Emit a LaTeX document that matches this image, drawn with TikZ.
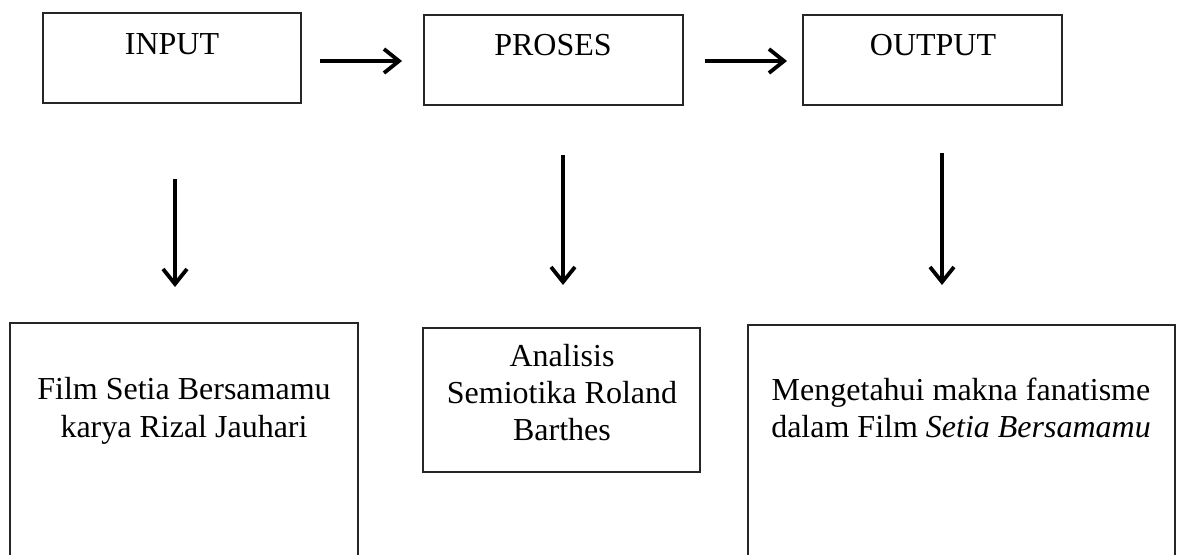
\documentclass[tikz,border=0pt]{standalone}
\usepackage{fontspec}
\setmainfont{Liberation Serif}
\usetikzlibrary{arrows.meta}
\begin{document}
\begin{tikzpicture}[x=1pt,y=-1pt,
  box/.style={draw=black!85,line width=1.1pt,rectangle},
  txt/.style={anchor=base,inner sep=0pt,font=\fontsize{32}{37}\selectfont},
  flow/.style={line width=3.8pt,-{Straight Barb[length=15pt,width=24pt,line width=3.8pt]}}]
\useasboundingbox (0,0) rectangle (1177,554);
% top boxes
\draw[box] (43,13) rectangle (301,103);
\draw[box] (424,15) rectangle (683,105);
\draw[box] (803,15) rectangle (1062,105);
\node[txt] (tin) at (172,54) {INPUT};
\node[txt] (tpr) at (553,55) {PROSES};
\node[txt] (tout) at (933,55) {OUTPUT};
% bottom boxes
\draw[box] (10,323) rectangle (358,570);
\draw[box] (423,328) rectangle (700,472);
\draw[box] (748,325) rectangle (1175,570);
\node[txt] (b1a) at (184,399) {Film Setia Bersamamu};
\node[txt] (b1b) at (184,437) {karya Rizal Jauhari};
\node[txt] (b2a) at (562,366) {Analisis};
\node[txt] (b2b) at (562,403) {Semiotika Roland};
\node[txt] (b2c) at (562,440) {Barthes};
\node[txt] (b3a) at (961,400) {Mengetahui makna fanatisme};
\node[txt] (b3b) at (961,437) {dalam Film \textit{Setia Bersamamu}};
% arrows
\coordinate (h1s) at (320,61); \coordinate (h1e) at (402,61);
\coordinate (h2s) at (705,61); \coordinate (h2e) at (787,61);
\coordinate (v1s) at (175,179); \coordinate (v1e) at (175,287);
\coordinate (v2s) at (563,155); \coordinate (v2e) at (563,285);
\coordinate (v3s) at (942,153); \coordinate (v3e) at (942,285);
\draw[flow] (h1s) -- (h1e);
\draw[flow] (h2s) -- (h2e);
\draw[flow] (v1s) -- (v1e);
\draw[flow] (v2s) -- (v2e);
\draw[flow] (v3s) -- (v3e);
\end{tikzpicture}
\end{document}
